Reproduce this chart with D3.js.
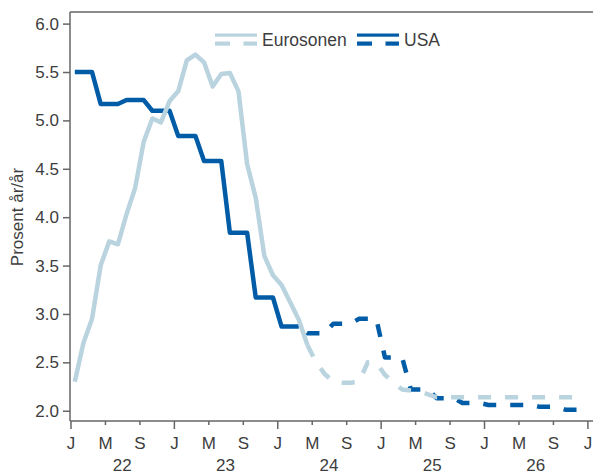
<!DOCTYPE html>
<html>
<head>
<meta charset="utf-8">
<script src="https://cdn.jsdelivr.net/npm/d3@7"></script>
<style>
  html, body { margin: 0; padding: 0; background: #fff; }
  svg { display: block; font-family: "Liberation Sans", Arial, sans-serif; }
</style>
</head>
<body>
<svg id="chart" width="593" height="475"></svg>
<script>
// ---- Data ----
// Eurosonen, monthly, Jan 2022 – Apr 2024 (actual)
const euroActual = [2.3, 2.7, 2.95, 3.5, 3.75, 3.72, 4.03, 4.3, 4.78, 5.02, 4.98, 5.2,
                    5.3, 5.62, 5.68, 5.6, 5.35, 5.48, 5.49, 5.3, 4.55, 4.2, 3.6, 3.4,
                    3.3, 3.12, 2.94, 2.68];
// Eurosonen, monthly, Apr 2024 – Dec 2026 (forecast)
const euroForecast = [2.68, 2.5, 2.38, 2.3, 2.29, 2.29, 2.3, 2.5, 2.5,
                      2.37, 2.29, 2.22, 2.21, 2.2, 2.17, 2.14, 2.14, 2.14, 2.14, 2.14, 2.14,
                      2.14, 2.14, 2.14, 2.14, 2.14, 2.14, 2.14, 2.14, 2.14, 2.14, 2.14, 2.14];
// USA, quarterly, Q1 2022 – Q1 2024 (actual)
const usActualQ = [5.5, 5.17, 5.21, 5.10, 4.84, 4.58, 3.84, 3.17, 2.87];
// USA, quarterly, Q1 2024 – Q4 2026 (forecast)
const usForecastQ = [2.87, 2.80, 2.90, 2.95, 2.55, 2.22, 2.13, 2.08, 2.06, 2.06, 2.04, 2.01];

const yTicks = [2.0, 2.5, 3.0, 3.5, 4.0, 4.5, 5.0, 5.5, 6.0];
const monthTickLabels = ["J", "M", "S"];
const yearLabels = ["22", "23", "24", "25", "26"];
const seriesNames = ["Eurosonen", "USA"];
const seriesColors = ["#b9d3df", "#005ca6"];
const yTitle = "Prosent år/år";

// ---- Layout ----
const svg = d3.select("#chart");
const pLeft = 70, pRight = 593, pTop = 12, pBottom = 421;
const axisColor = "#666";
const textColor = "#3d3d3d";

// months since Jan 2022
const x = d3.scaleLinear().domain([0, 60]).range([70.5, 587.4]);
const y = d3.scaleLinear().domain([1.894, 6.12]).range([pBottom, pTop]);
const xm = m => x(m + 0.5); // mid-month position

// ---- Build points ----
const euroActPts = euroActual.map((v, i) => [i, v]);
const euroFcPts = euroForecast.map((v, i) => [27 + i, v]);
const usActPts = [];
usActualQ.forEach((v, q) => { usActPts.push([q * 3, v]); usActPts.push([q * 3 + 2, v]); });
const usFcPts = [];
usForecastQ.forEach((v, i) => {
  const q = 8 + i;
  if (i === 0) usFcPts.push([q * 3 + 2, v]);
  else { usFcPts.push([q * 3, v]); usFcPts.push([q * 3 + 2, v]); }
});

const line = d3.line().x(d => xm(d[0])).y(d => y(d[1]));

// ---- Frame / axes ----
const g = svg.append("g");
g.append("line").attr("x1", pLeft).attr("x2", pRight).attr("y1", pTop).attr("y2", pTop)
  .attr("stroke", axisColor).attr("stroke-width", 1.5);
g.append("line").attr("x1", pLeft).attr("x2", pLeft).attr("y1", pTop).attr("y2", pBottom)
  .attr("stroke", axisColor).attr("stroke-width", 1.5);
g.append("line").attr("x1", pLeft).attr("x2", pRight).attr("y1", pBottom).attr("y2", pBottom)
  .attr("stroke", axisColor).attr("stroke-width", 1.5);

// y axis
const yAxis = d3.axisLeft(y).tickValues(yTicks).tickFormat(d3.format(".1f")).tickSize(7).tickPadding(4);
const yg = svg.append("g").attr("transform", `translate(${pLeft},0)`).call(yAxis);
yg.select(".domain").remove();
yg.selectAll(".tick line").attr("stroke", axisColor).attr("stroke-width", 1.5);
yg.selectAll(".tick text").attr("fill", textColor).style("font-size", "17px")
  .style("font-family", "'Liberation Sans', Arial, sans-serif");

// x axis
const xTickVals = d3.range(0, 61, 4);
const xAxis = d3.axisBottom(x).tickValues(xTickVals)
  .tickFormat(d => monthTickLabels[(d % 12) / 4]).tickSize(4).tickPadding(12);
const xg = svg.append("g").attr("transform", `translate(0,${pBottom})`).call(xAxis);
xg.select(".domain").remove();
xg.selectAll(".tick line").attr("stroke", axisColor).attr("stroke-width", 1.5)
  .attr("y2", d => (d % 12 === 0 ? 8 : 4));
xg.selectAll(".tick text").attr("fill", textColor).style("font-size", "17px")
  .style("font-family", "'Liberation Sans', Arial, sans-serif");

// year labels
svg.append("g").selectAll("text").data(yearLabels).join("text")
  .attr("x", (d, i) => x(i * 12 + 6))
  .attr("y", 471)
  .attr("text-anchor", "middle")
  .attr("fill", textColor)
  .style("font-size", "17px")
  .text(d => d);

// y title
svg.append("text")
  .attr("transform", `translate(23,217) rotate(-90)`)
  .attr("text-anchor", "middle")
  .attr("fill", textColor)
  .style("font-size", "17px")
  .text(yTitle);

// ---- Series ----
const lw = 4.5;
const dash = "13,14";
function drawSeries(actPts, fcPts, color, offset) {
  svg.append("path").datum(actPts).attr("d", line)
    .attr("fill", "none").attr("stroke", color).attr("stroke-width", lw)
    .attr("stroke-linejoin", "round");
  svg.append("path").datum(fcPts).attr("d", line)
    .attr("fill", "none").attr("stroke", color).attr("stroke-width", lw)
    .attr("stroke-linejoin", "round").attr("stroke-dasharray", dash)
    .attr("stroke-dashoffset", offset);
}
drawSeries(usActPts, usFcPts, seriesColors[1], 17);
drawSeries(euroActPts, euroFcPts, seriesColors[0], 0);

// ---- Legend ----
const legend = svg.append("g");
const legendItems = [
  { name: seriesNames[0], color: seriesColors[0], x0: 215, tx: 262 },
  { name: seriesNames[1], color: seriesColors[1], x0: 357, tx: 404 }
];
legendItems.forEach(it => {
  legend.append("rect").attr("x", it.x0).attr("y", 33.5).attr("width", 42).attr("height", 3.2)
    .attr("fill", it.color);
  legend.append("rect").attr("x", it.x0).attr("y", 41.5).attr("width", 15).attr("height", 4.2)
    .attr("fill", it.color);
  legend.append("rect").attr("x", it.x0 + 28.5).attr("y", 41.5).attr("width", 13.5).attr("height", 4.2)
    .attr("fill", it.color);
  legend.append("text").attr("x", it.tx).attr("y", 46).attr("fill", textColor)
    .style("font-size", "17.5px").text(it.name);
});
</script>
</body>
</html>
